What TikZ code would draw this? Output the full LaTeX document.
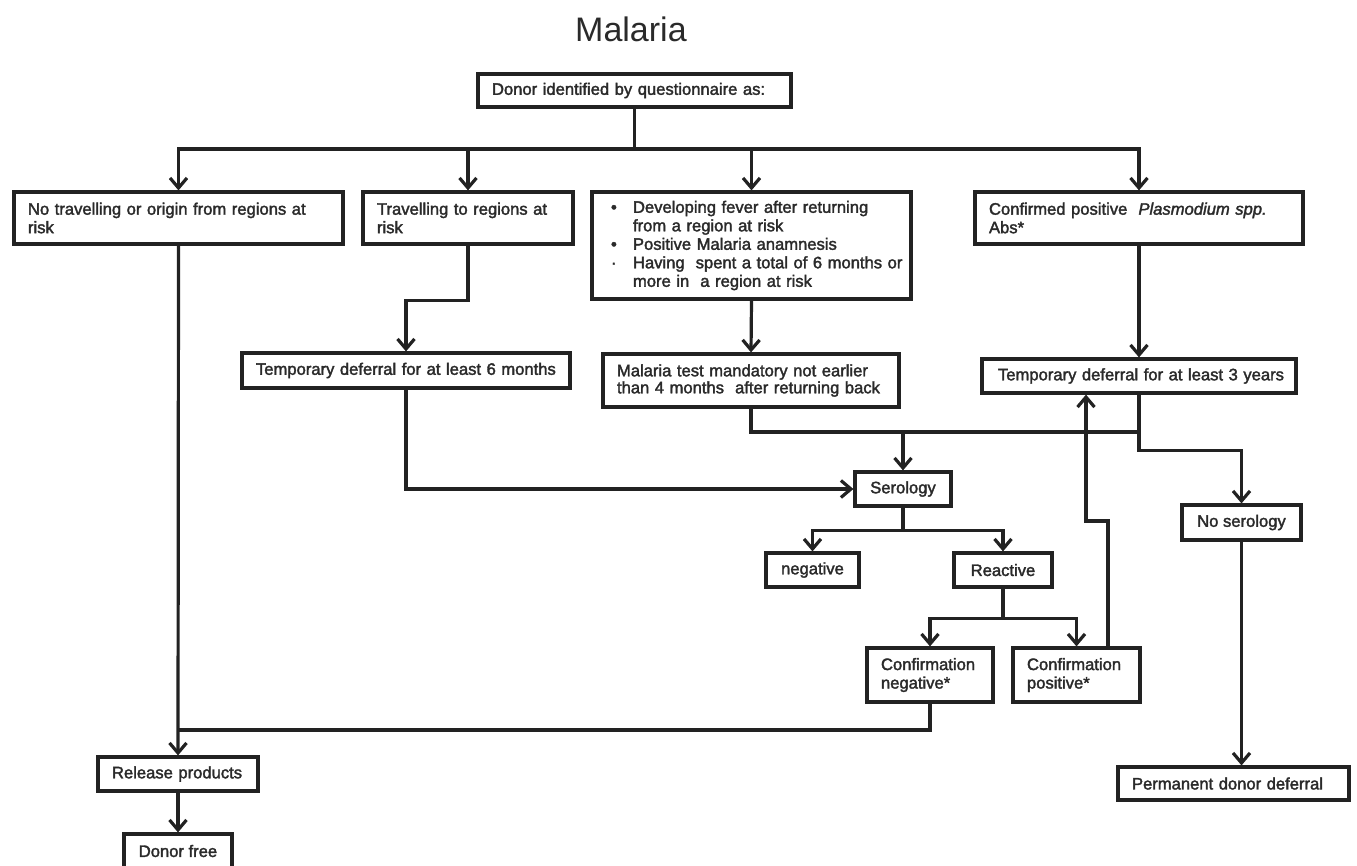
\documentclass[tikz,border=0pt]{standalone}
\usepackage{fontspec}
\newfontfamily\boxfont{Liberation Sans}[FakeBold=2]
\newfontfamily\titlefont{Liberation Sans}
\usetikzlibrary{arrows.meta,calc}
\definecolor{ink}{HTML}{222222}
\definecolor{txt}{HTML}{2A2A2A}
\begin{document}
\begin{tikzpicture}[x=1pt,y=-1pt,
  box/.style={draw=ink, line width=3.2pt, fill=white, inner xsep=14pt, inner ysep=0pt,
    align=left, text=txt, font=\boxfont\fontsize{16.6}{18.5}\selectfont},
  cbox/.style={box, align=center},
  conn/.style={draw=ink, line width=3.2pt, line join=miter},
  arr/.style={-{Straight Barb[length=10pt,width=17pt]}}]
\useasboundingbox (0,0) rectangle (1357,865);

% title
\node[anchor=base west, inner sep=0pt, text=txt, font=\titlefont\fontsize{34}{40}\selectfont] (title) at (575,41) {Malaria};

% boxes
\node[box, minimum width=313pt, minimum height=33pt, text width=285pt] (donor) at (634.5,90.5) {\mbox{Donor identified by questionnaire as:}};
\node[box, minimum width=329pt, minimum height=52pt, text width=301pt] (b1) at (178.5,218) {\mbox{No travelling or origin from regions at}\\risk};
\node[box, minimum width=210pt, minimum height=52pt, text width=182pt] (b2) at (468,218) {\mbox{Travelling to regions at}\\risk};
\node[box, inner xsep=19pt, minimum width=319pt, minimum height=107pt, text width=281pt] (b3) at (751.5,245.5)
  {\mbox{\makebox[22pt][l]{•}Developing fever after returning}\\
   \mbox{\hspace*{22pt}from a region at risk}\\
   \mbox{\makebox[22pt][l]{•}Positive Malaria anamnesis}\\
   \mbox{\makebox[22pt][l]{·}Having~ spent a total of 6 months or}\\
   \mbox{\hspace*{22pt}more in~ a region at risk}};
\node[box, minimum width=328pt, minimum height=52pt, text width=300pt] (b4) at (1139,218) {\mbox{Confirmed positive~ \textit{Plasmodium spp.}}\\Abs*};

\node[box, minimum width=328pt, minimum height=35pt, text width=300pt] (t6) at (406,370.5) {\mbox{Temporary deferral for at least 6 months}};
\node[box, minimum width=296pt, minimum height=53pt, text width=268pt, font=\boxfont\fontsize{16.6}{17}\selectfont] (mt) at (751,380.5) {\mbox{Malaria test mandatory not earlier}\\\mbox{than 4 months~ after returning back}};
\node[box, inner xsep=16pt, minimum width=314pt, minimum height=34pt, text width=282pt] (t3) at (1139,376) {\mbox{Temporary deferral for at least 3 years}};

\node[cbox, minimum width=96pt, minimum height=34pt] (sero) at (903,489) {Serology};
\node[cbox, minimum width=93pt, minimum height=34pt] (neg) at (812.5,570) {negative};
\node[cbox, minimum width=98pt, minimum height=34pt] (react) at (1003,570) {Reactive};
\node[box, minimum width=126pt, minimum height=54pt, text width=98pt] (cneg) at (930,675) {Confirmation\\negative*};
\node[box, minimum width=127pt, minimum height=54pt, text width=99pt] (cpos) at (1076.5,675) {Confirmation\\positive*};
\node[cbox, minimum width=119pt, minimum height=35pt] (noser) at (1241.5,522.5) {\mbox{No serology}};
\node[box, minimum width=231pt, minimum height=33pt, text width=203pt] (perm) at (1233.5,783.5) {\mbox{Permanent donor deferral}};
\node[box, minimum width=160pt, minimum height=34pt, text width=132pt] (rel) at (178,774) {\mbox{Release products}};
\node[cbox, minimum width=108pt, minimum height=34pt] (dfree) at (178,851) {\mbox{Donor free}};

% junction points
\coordinate (bus) at (634.5,149);
\coordinate (hb) at (1139,432);
\coordinate (up1) at (1086,521);
\coordinate (j1) at (178,730);

% connectors
\draw[conn] (donor.south) -- (bus);
\draw[conn,arr] (bus) -| (b1.north);
\draw[conn,arr] (bus) -| (b2.north);
\draw[conn,arr] (bus) -| (b3.north);
\draw[conn,arr] (bus) -| (b4.north);

\draw[conn,arr] (b1.south) -- (rel.north);
\draw[conn,arr] (rel.south) -- (dfree.north);
\draw[conn] (cneg.south) |- (j1);

\draw[conn,arr] (b2.south) -- ++(0,55) -| (t6.north);
\draw[conn,arr] (t6.south) |- (sero.west);

\draw[conn,arr] (b3.south) -- (mt.north);
\draw[conn] (mt.south) |- (hb);
\draw[conn,arr] (sero.north |- hb) -- (sero.north);

\draw[conn,arr] (b4.south) -- (t3.north);
\draw[conn,arr] (t3.south) -- ++(0,56) -| (noser.north);
\draw[conn,arr] (noser.south) -- (noser.south |- perm.north);

\draw[conn,arr] (sero.south) -- ++(0,23) -| (neg.north);
\draw[conn,arr] (sero.south) -- ++(0,23) -| (react.north);
\draw[conn,arr] (react.south) -- ++(0,30) -| (cneg.north);
\draw[conn,arr] (react.south) -- ++(0,30) -| (cpos.north);

\draw[conn,arr] ($(cpos.north)+(31.5,0)$) |- (up1) -- (up1 |- t3.south);
\end{tikzpicture}
\end{document}
